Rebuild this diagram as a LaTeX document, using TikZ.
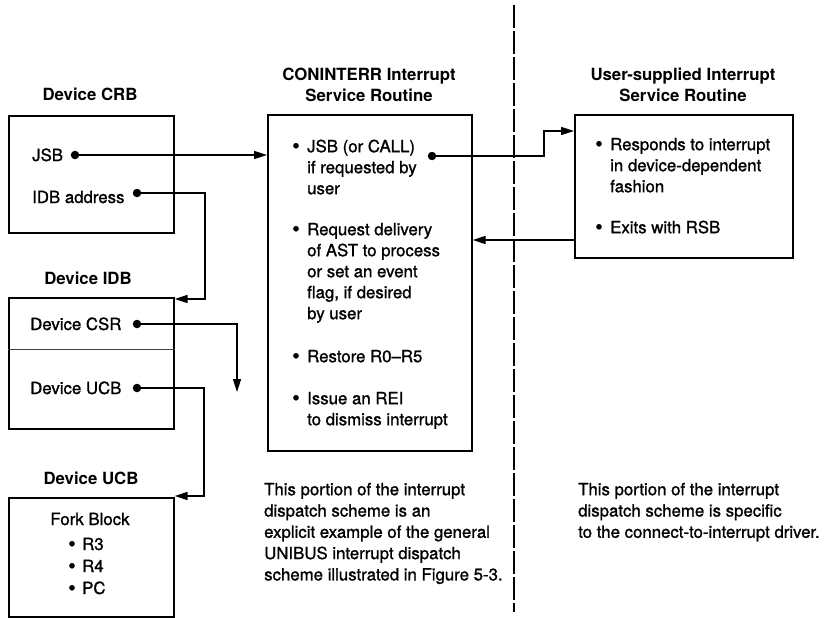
\documentclass[tikz,border=0pt]{standalone}
\usepackage{fontspec}
\setmainfont{TeX Gyre Heros}[UprightFeatures={FakeBold=1.2}]
\usetikzlibrary{arrows.meta}
\newcommand\bodyfont{\fontsize{16.8}{21}\selectfont}
\newcommand\notefont{\fontsize{16.8}{21.3}\selectfont}
\newcommand\firstline{\rule{0pt}{13pt}}
\newcommand\blt{\raisebox{-1pt}{\fontsize{21}{21}\selectfont\textbullet}}

\begin{document}
\begin{tikzpicture}[x=1pt,y=-1pt,
  box/.style={draw, line width=1.7pt, inner sep=0, anchor=north west},
  title/.style={font=\bodyfont\bfseries, inner sep=0, align=center, anchor=north},
  lbl/.style={font=\bodyfont, inner sep=0, anchor=base west},
  item/.style={font=\bodyfont, inner sep=0, anchor=north west, align=left},
  bul/.style={font=\bodyfont, inner sep=0, anchor=base},
  note/.style={font=\notefont, inner sep=0, anchor=north west, align=left},
  dot/.style={circle, fill, inner sep=0, minimum size=8.5pt},
  link/.style={line width=1.6pt},
  arr/.style={link, -{Triangle[length=13pt,width=8pt]}},
]
\useasboundingbox (0,0) rectangle (828,618);

% ---- left column: control blocks ----
\node[title, anchor=base] (crbtitle) at (90,101) {Device CRB};
\node[box, minimum width=165pt, minimum height=117pt] (crb) at (8,115) {};
\node[lbl] (jsb) at (32,161) {JSB};
\node[dot] (jsbdot) at (75,155) {};
\node[lbl] (idbaddr) at (32,203) {IDB address};
\node[dot] (idbdot) at (137,193) {};

\node[title, anchor=base] (idbtitle) at (88,284) {Device IDB};
\node[box, minimum width=165pt, minimum height=131pt] (idb) at (8,297) {};
\draw[line width=0.9pt, black!75] (idb.west |- 0,349) -- (idb.east |- 0,349);
\node[lbl] (csr) at (30,330) {Device CSR};
\node[dot] (csrdot) at (137,324) {};
\node[lbl] (ucbref) at (30,394) {Device UCB};
\node[dot] (ucbdot) at (137,388) {};

\node[title, anchor=base] (ucbtitle) at (91,484) {Device UCB};
\node[box, minimum width=165pt, minimum height=119pt] (ucb) at (8,497) {};
\node[font=\bodyfont, inner sep=0, anchor=base] (fork) at (90,525) {Fork Block};
\node[bul] (rb3) at (72,550) {\blt};
\node[lbl] (r3) at (82,550) {R3};
\node[bul] (rb4) at (72,572) {\blt};
\node[lbl] (r4) at (82,572) {R4};
\node[bul] (rb5) at (72,594) {\blt};
\node[lbl] (pc) at (82,594) {PC};

% ---- CONINTERR service routine ----
\node[title] (contitle) at (369,67) {\firstline CONINTERR Interrupt\\Service Routine};
\node[box, minimum width=204pt, minimum height=336pt] (con) at (267,114) {};
\node[bul] (cb1) at (296,152) {\blt};
\node[item] (ci1) at (307,139) {\firstline JSB (or CALL)\\if requested by\\user};
\node[dot] (calldot) at (432,156) {};
\node[bul] (cb2) at (296,235) {\blt};
\node[item] (ci2) at (307,222) {\firstline Request delivery\\of AST to process\\or set an event\\flag, if desired\\by user};
\node[bul] (cb3) at (296,362) {\blt};
\node[item] (ci3) at (307,349) {\firstline Restore R0--R5};
\node[bul] (cb4) at (296,404) {\blt};
\node[item] (ci4) at (307,391) {\firstline Issue an REI\\to dismiss interrupt};

% ---- user-supplied service routine ----
\node[title] (usrtitle) at (683,67) {\firstline User-supplied Interrupt\\Service Routine};
\node[box, minimum width=218pt, minimum height=143pt] (usr) at (574,114) {};
\node[bul] (ub1) at (599,150) {\blt};
\node[item] (ui1) at (610,137) {\firstline Responds to interrupt\\in device-dependent\\fashion};
\node[bul] (ub2) at (599,233) {\blt};
\node[item] (ui2) at (610,220) {\firstline Exits with RSB};

% ---- divider between the two portions ----
\coordinate (divtop) at (514,5);
\coordinate (divbot) at (514,612);
\draw[line width=2pt, dash pattern=on 23pt off 3pt] (divtop) -- (divbot);

% ---- notes ----
\node[note] (noteleft) at (264,482) {\firstline This portion of the interrupt\\dispatch scheme is an\\explicit example of the general\\UNIBUS interrupt dispatch\\scheme illustrated in Figure 5-3.};
\node[note] (noteright) at (578,482) {\firstline This portion of the interrupt\\dispatch scheme is specific\\to the connect-to-interrupt driver.};

% ---- connectors ----
\draw[arr] (jsbdot) -- (con.west |- jsbdot);
\coordinate (idbbend) at (205,299);
\draw[arr] (idbdot) -| (idbbend) -- (idb.east |- idbbend);
\coordinate (csrend) at (237,392);
\draw[arr] (csrdot) -| (csrend);
\coordinate (ucbbend) at (204,496);
\draw[arr] (ucbdot) -| (ucbbend) -- (ucb.east |- ucbbend);
\coordinate (callbend) at (544,131);
\draw[arr] (calldot) -| (callbend) -- (usr.west |- callbend);
\coordinate (retlevel) at (0,240);
\draw[arr] (usr.west |- retlevel) -- (con.east |- retlevel);
\end{tikzpicture}
\end{document}
